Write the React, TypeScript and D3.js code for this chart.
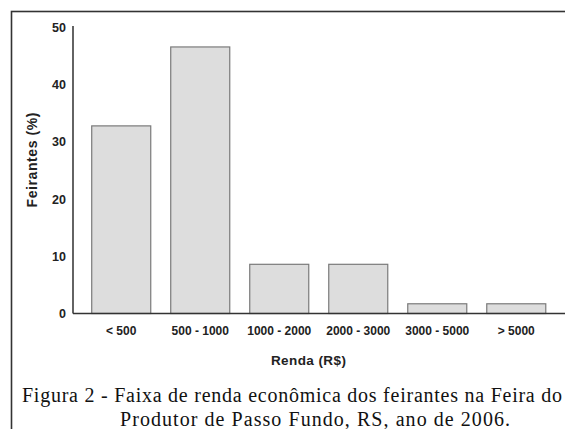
import React from "react";
import * as d3 from "d3";

const categories = ["< 500", "500 - 1000", "1000 - 2000", "2000 - 3000", "3000 - 5000", "> 5000"];
const values = [32.8, 46.6, 8.6, 8.6, 1.7, 1.7];
const yTicks = [0, 10, 20, 30, 40, 50];
const yTitle = "Feirantes (%)";
const xTitle = "Renda (R$)";
const captionLines = [
  "Figura 2 - Faixa de renda econômica dos feirantes na Feira do",
  "Produtor de Passo Fundo, RS, ano de 2006.",
];

export default function App() {
  const W = 565;
  const H = 429;
  const x = d3
    .scaleBand<string>()
    .domain(categories)
    .range([73, 564.5])
    .paddingInner(0.253)
    .paddingOuter(0.237);
  const y = d3.scaleLinear().domain([0, 50]).range([313.5, 27.5]);
  const sans = "'Liberation Sans', Arial, sans-serif";
  const serif = "'Liberation Serif', 'Times New Roman', serif";

  return (
    <svg
      width={W}
      height={H}
      style={{ position: "fixed", left: 0, top: 0, background: "#fff" }}
    >
      <rect x={11.5} y={11.5} width={600} height={450} fill="none" stroke="#333" strokeWidth={1.6} />
      {categories.map((c, i) => (
        <rect
          key={c}
          x={x(c)}
          y={y(values[i])}
          width={x.bandwidth()}
          height={y(0) - y(values[i])}
          fill="#dddddd"
          stroke="#7a7a7a"
          strokeWidth={1.2}
        />
      ))}
      <line x1={73} x2={73} y1={26} y2={y(0)} stroke="#222" strokeWidth={1.4} />
      <line x1={73} x2={565} y1={y(0)} y2={y(0)} stroke="#333" strokeWidth={1.6} />
      {yTicks.map((t) => (
        <text
          key={t}
          x={66}
          y={y(t)}
          dy="0.36em"
          textAnchor="end"
          fontFamily={sans}
          fontWeight="bold"
          fontSize={12.5}
          fill="#222"
        >
          {t}
        </text>
      ))}
      {categories.map((c) => (
        <text
          key={c}
          x={(x(c) as number) + x.bandwidth() / 2}
          y={334.5}
          textAnchor="middle"
          fontFamily={sans}
          fontWeight="bold"
          fontSize={12}
          fill="#222"
        >
          {c}
        </text>
      ))}
      <text
        transform={`translate(37,160) rotate(-90)`}
        textAnchor="middle"
        fontFamily={sans}
        fontWeight="bold"
        fontSize={14}
        fill="#222"
        textLength={95}
        lengthAdjust="spacing"
      >
        {yTitle}
      </text>
      <text
        x={308.4}
        y={364.5}
        textAnchor="middle"
        fontFamily={sans}
        fontWeight="bold"
        fontSize={13.5}
        fill="#222"
        textLength={75}
        lengthAdjust="spacing"
      >
        {xTitle}
      </text>
      <text
        x={22}
        y={402}
        fontFamily={serif}
        fontSize={20}
        fill="#111"
        textLength={540}
        lengthAdjust="spacing"
      >
        {captionLines[0]}
      </text>
      <text
        x={120}
        y={425.5}
        fontFamily={serif}
        fontSize={20}
        fill="#111"
        textLength={390}
        lengthAdjust="spacing"
      >
        {captionLines[1]}
      </text>
    </svg>
  );
}
